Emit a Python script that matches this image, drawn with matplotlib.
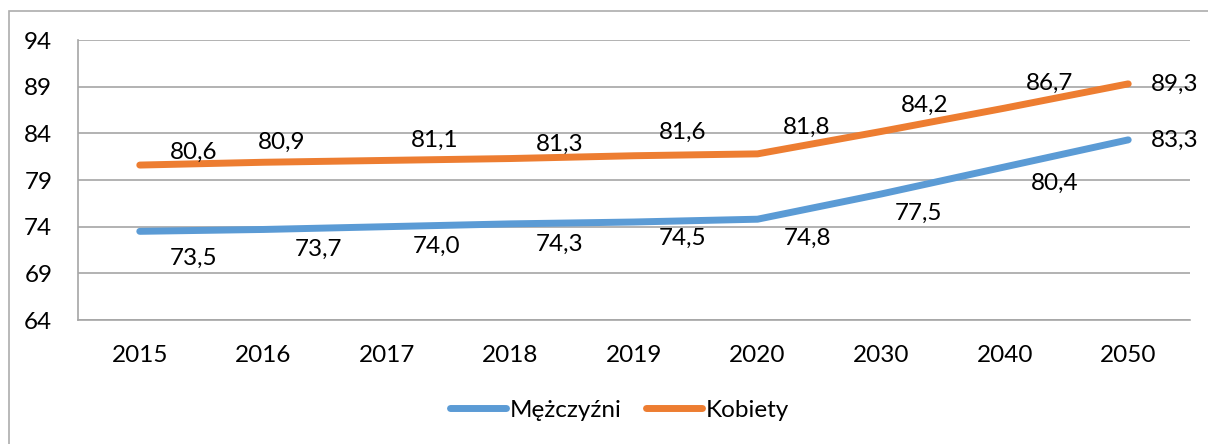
import matplotlib.pyplot as plt
from matplotlib.patches import Rectangle

plt.rcParams['font.family'] = ['Lato', 'DejaVu Sans']

# dane: przewidywana długość życia
lata = ['2015', '2016', '2017', '2018', '2019', '2020', '2030', '2040', '2050']
mezczyzni = [73.5, 73.7, 74.0, 74.3, 74.5, 74.8, 77.5, 80.4, 83.3]
kobiety = [80.6, 80.9, 81.1, 81.3, 81.6, 81.8, 84.2, 86.7, 89.3]

# przesunięcia etykiet (w pikselach) względem punktów
off_m = [(54, -27), (55, -20), (50, -20), (49, -20), (49, -16),
         (50, -19), (37, -19), (50, -16), (46, 0)]
off_k = [(54, 13), (18, 20), (48, 20), (49, 14), (49, 23),
         (49, 27), (44, 26), (45, 25), (46, 0)]

niebieski = '#5B9BD5'
pomaranczowy = '#ED7D31'
szary = '#A6A6A6'
fs = 17.5


def draw():
    fig = plt.figure(figsize=(12.08, 4.44), dpi=100)
    # ramka wykresu
    fig.patches.append(Rectangle((9 / 1208, -0.1), 1.2, 1.1 - 11 / 444,
                                 transform=fig.transFigure, fill=False,
                                 edgecolor='#ADADAD', linewidth=1.2))
    ax = fig.add_axes([78 / 1208, 1 - 320 / 444, 1112 / 1208, 280 / 444])

    x = list(range(len(lata)))
    ax.plot(x, mezczyzni, color=niebieski, lw=5, solid_capstyle='round',
            label='Mężczyźni', zorder=3)
    ax.plot(x, kobiety, color=pomaranczowy, lw=5, solid_capstyle='round',
            label='Kobiety', zorder=3)

    for xi, v, o in zip(x, mezczyzni, off_m):
        ax.annotate(f'{v:.1f}'.replace('.', ','), (xi, v), xytext=o,
                    textcoords='offset pixels', ha='center', va='center',
                    fontsize=fs, zorder=4)
    for xi, v, o in zip(x, kobiety, off_k):
        ax.annotate(f'{v:.1f}'.replace('.', ','), (xi, v), xytext=o,
                    textcoords='offset pixels', ha='center', va='center',
                    fontsize=fs, zorder=4)

    ax.set_xlim(-0.5, len(lata) - 0.5)
    ax.set_ylim(64, 94)
    ax.set_yticks(range(64, 95, 5))
    ax.set_xticks(x)
    ax.set_xticklabels(lata)
    ax.tick_params(length=0, labelsize=fs)
    ax.tick_params(axis='y', pad=18.5)
    ax.tick_params(axis='x', pad=18)
    ax.grid(axis='y', color=szary, linewidth=1.2)
    ax.set_axisbelow(True)
    for s in ['top', 'right']:
        ax.spines[s].set_visible(False)
    for s in ['left', 'bottom']:
        ax.spines[s].set_color(szary)
        ax.spines[s].set_linewidth(1.2)

    fig.legend(loc='center', bbox_to_anchor=(0.513, 1 - 410 / 444), ncol=2,
               frameon=False, fontsize=fs, handlelength=2.3,
               handletextpad=0.15, columnspacing=1.0)

    fig.savefig('out.png', dpi=100)


if __name__ == "__main__":
    draw()
